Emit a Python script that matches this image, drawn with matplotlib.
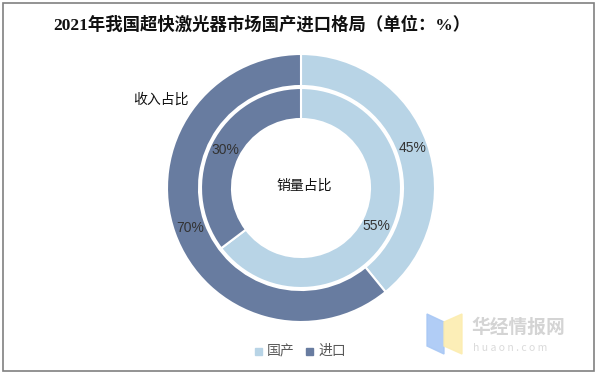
import matplotlib
matplotlib.use("Agg")
import matplotlib.pyplot as plt
from matplotlib.patches import Rectangle, Polygon

plt.rcParams['font.family'] = ['Noto Sans CJK SC', 'DejaVu Sans']

# data
categories = ['国产', '进口']
income = [45, 70]   # 收入占比 (outer ring)
sales = [55, 30]    # 销量占比 (inner ring)
colors = ['#B8D4E6', '#687CA0']

title = '2021年我国超快激光器市场国产进口格局（单位：%）'

fig = plt.figure(figsize=(5.97, 3.75), dpi=100)
ax = fig.add_axes([0, 0, 1, 1])

cx, cy = 301, 187

# outer ring
ax.pie(income, colors=colors, radius=134, center=(cx, cy), startangle=90,
       counterclock=False, labels=[f'{v}%' for v in income], labeldistance=118 / 134,
       textprops=dict(family='Liberation Sans', fontsize=10, color='#333333',
                      ha='center', va='center'),
       wedgeprops=dict(width=32, edgecolor='white', linewidth=1.5), frame=True)
# inner ring
ax.pie(sales, colors=colors, radius=100, center=(cx, cy), startangle=90,
       counterclock=False, labels=[f'{v}%' for v in sales], labeldistance=84.5 / 100,
       textprops=dict(family='Liberation Sans', fontsize=10, color='#333333',
                      ha='center', va='center'),
       wedgeprops=dict(width=31, edgecolor='white', linewidth=1.5), frame=True)
ax.set_xlim(0, 597)
ax.set_ylim(0, 375)
ax.set_aspect('auto')
ax.axis('off')

ax.text(262, 375 - 25, title, fontsize=12.5, fontweight='bold', ha='center', va='center',
        color='#111111', family=['Liberation Serif', 'Noto Sans CJK SC'])
ax.text(161, 375 - 100, '收入占比', fontsize=10, ha='center', va='center', color='#111111')
ax.text(304, 375 - 186, '销量占比', fontsize=10, ha='center', va='center', color='#111111')

# legend
lx = [258, 309]
for x, c, name in zip(lx, colors, categories):
    ax.add_patch(Rectangle((x - 3.5, 375 - 354.5), 7, 7, color=c))
    ax.text(x + 9, 375 - 351, name, fontsize=10, ha='left', va='center', color='#595959')

# watermark
ax.add_patch(Polygon([(427, 375 - 314), (444, 375 - 322), (444, 375 - 354), (427, 375 - 346)],
                     closed=True, color='#A9C8F5', alpha=0.9))
ax.add_patch(Polygon([(444, 375 - 322), (462, 375 - 314), (462, 375 - 354), (444, 375 - 346)],
                     closed=True, color='#FCEDB0', alpha=0.9))
ax.text(471, 375 - 327, '华经情报网', fontsize=13.5, fontweight='bold', ha='left', va='center',
        color='#D4D4D4')
ax.text(473, 375 - 348, 'h u a o n . c o m', fontsize=7.5, ha='left', va='center',
        color='#DADADA')

# frame
ax.add_patch(Rectangle((3, 375 - 371), 591, 368, fill=False, edgecolor='#808080', linewidth=1.2))

fig.savefig('out.png', dpi=100)
